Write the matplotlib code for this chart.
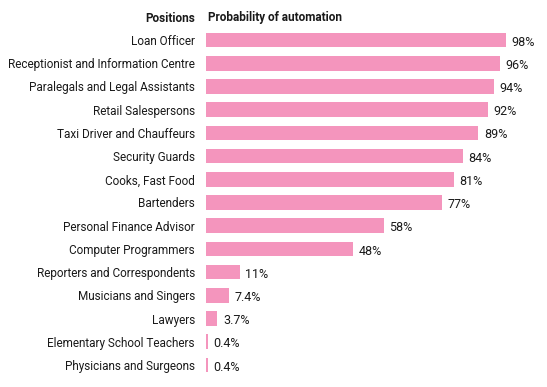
import matplotlib
matplotlib.use('Agg')
import matplotlib.pyplot as plt

positions = ['Loan Officer', 'Receptionist and Information Centre',
             'Paralegals and Legal Assistants', 'Retail Salespersons',
             'Taxi Driver and Chauffeurs', 'Security Guards', 'Cooks, Fast Food',
             'Bartenders', 'Personal Finance Advisor', 'Computer Programmers',
             'Reporters and Correspondents', 'Musicians and Singers', 'Lawyers',
             'Elementary School Teachers', 'Physicians and Surgeons']
probability = [98, 96, 94, 92, 89, 84, 81, 77, 58, 48, 11, 7.4, 3.7, 0.4, 0.4]
value_labels = ['98%', '96%', '94%', '92%', '89%', '84%', '81%', '77%', '58%', '48%',
                '11%', '7.4%', '3.7%', '0.4%', '0.4%']

plt.rcParams['font.family'] = ['Roboto', 'DejaVu Sans']
txt = '#1a1a1a'
pink = '#f495bd'

fig = plt.figure(figsize=(5.47, 3.87), dpi=100)
ax = fig.add_axes([0.3766, 0.0269, 0.6234, 0.8997])

ypos = list(range(len(positions)))
# tiny values still get a visible sliver
widths = [max(v, 0.6) for v in probability]
ax.barh(ypos, widths, height=0.63, color=pink)

for y, w, lab in zip(ypos, widths, value_labels):
    ax.annotate(lab, (w, y), xytext=(4, -1.5), textcoords='offset points',
                va='center', ha='left', fontsize=9, color=txt)

ax.set_xlim(0, 111.4)
ax.set_ylim(len(positions) - 0.5, -0.5)
ax.set_yticks(ypos)
ax.set_yticklabels(positions, fontsize=8.5, color=txt)
ax.tick_params(axis='y', length=0, pad=8)
ax.set_xticks([])
for s in ax.spines.values():
    s.set_visible(False)

fig.text(195 / 547, 1 - 18 / 387, 'Positions', ha='right', va='center',
         fontsize=8.5, fontweight='bold', color=txt)
fig.text(208 / 547, 1 - 18 / 387, 'Probability of automation', ha='left', va='center',
         fontsize=8.5, fontweight='bold', color=txt)

fig.savefig('out.png', dpi=100)
